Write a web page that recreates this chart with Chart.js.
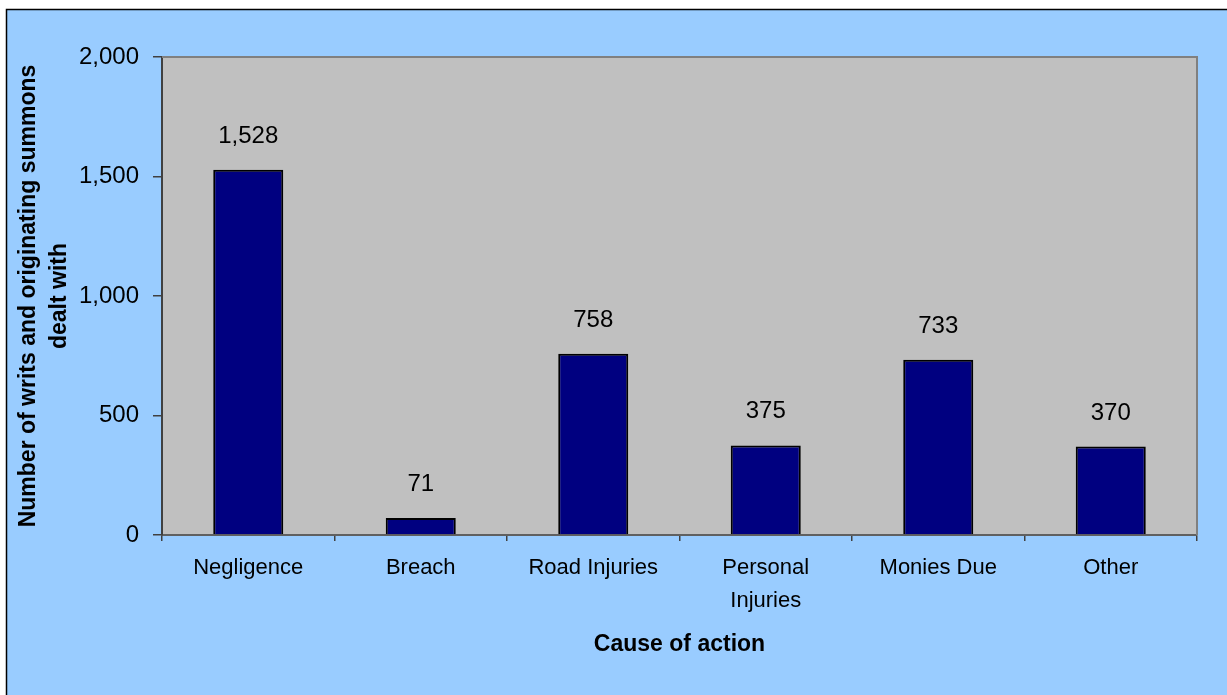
<!DOCTYPE html>
<html>
<head>
<meta charset="utf-8">
<script src="https://cdn.jsdelivr.net/npm/chart.js@4/dist/chart.umd.min.js"></script>
<style>
  html, body { margin: 0; padding: 0; background: #fff; }
  canvas { display: block; }
</style>
</head>
<body>
<canvas id="writsChart" width="1227" height="695"></canvas>
<script>
// data
var categories = ['Negligence', 'Breach', 'Road Injuries', ['Personal', 'Injuries'], 'Monies Due', 'Other'];
var writs = [1528, 71, 758, 375, 733, 370];
var yTicks = [0, 500, 1000, 1500, 2000];

var FONT = '"Liberation Sans", Arial, sans-serif';

// outer frame and plot background
var framePlugin = {
    id: 'frame',
    beforeDraw: function(chart) {
        var ctx = chart.ctx, a = chart.chartArea;
        ctx.save();
        ctx.fillStyle = '#ffffff';
        ctx.fillRect(0, 0, chart.width, chart.height);
        ctx.fillStyle = '#99ccff';
        ctx.fillRect(7, 10, chart.width - 7, chart.height - 10);
        ctx.strokeStyle = '#000000';
        ctx.lineWidth = 1.5;
        ctx.beginPath();
        ctx.moveTo(6.5, chart.height);
        ctx.lineTo(6.5, 9.5);
        ctx.lineTo(chart.width, 9.5);
        ctx.stroke();
        ctx.fillStyle = '#c0c0c0';
        ctx.fillRect(a.left, a.top, a.right - a.left, a.bottom - a.top);
        ctx.restore();
    },
    afterDraw: function(chart) {
        var ctx = chart.ctx, a = chart.chartArea;
        ctx.save();
        ctx.strokeStyle = '#808080';
        ctx.lineWidth = 2;
        ctx.beginPath();
        ctx.moveTo(a.left, a.top);
        ctx.lineTo(a.right, a.top);
        ctx.lineTo(a.right, a.bottom);
        ctx.stroke();
        ctx.restore();
    }
};

// value labels above the bars
var valueLabels = {
    id: 'valueLabels',
    afterDatasetsDraw: function(chart) {
        var ctx = chart.ctx;
        var meta = chart.getDatasetMeta(0);
        ctx.save();
        ctx.font = '24px ' + FONT;
        ctx.fillStyle = '#000000';
        ctx.textAlign = 'center';
        ctx.textBaseline = 'alphabetic';
        meta.data.forEach(function(bar, i) {
            ctx.fillText(writs[i].toLocaleString('en-US'), bar.x, bar.y - 27);
        });
        ctx.restore();
    }
};

var ctx = document.getElementById('writsChart').getContext('2d');
var writsChart = new Chart(ctx, {
    type: 'bar',
    data: {
        labels: categories,
        datasets: [{
            data: writs,
            backgroundColor: '#000080',
            borderColor: '#000000',
            borderWidth: 2,
            barPercentage: 0.406,
            categoryPercentage: 1
        }]
    },
    options: {
        responsive: false,
        devicePixelRatio: 1,
        animation: false,
        layout: { padding: { left: 0, top: 57, right: 30, bottom: 0 } },
        plugins: {
            legend: { display: false },
            tooltip: { enabled: false }
        },
        scales: {
            x: {
                grid: {
                    offset: true,
                    drawOnChartArea: false,
                    drawTicks: true,
                    tickLength: 6,
                    tickColor: '#404040',
                    lineWidth: 1.5
                },
                border: { color: '#606060', width: 2 },
                ticks: {
                    color: '#000000',
                    padding: 10,
                    maxRotation: 0,
                    autoSkip: false,
                    font: { family: FONT, size: 22, lineHeight: 1.5 }
                },
                title: {
                    display: true,
                    text: 'Cause of action',
                    color: '#000000',
                    padding: { top: 0, bottom: 37 },
                    font: { family: FONT, size: 23, weight: 'bold' }
                },
                afterFit: function(scale) { scale.height = 160; }
            },
            y: {
                min: 0,
                max: 2000,
                afterBuildTicks: function(scale) {
                    scale.ticks = yTicks.map(function(v) { return { value: v }; });
                },
                grid: {
                    drawOnChartArea: false,
                    drawTicks: true,
                    tickLength: 9,
                    tickColor: '#404040',
                    lineWidth: 1.5
                },
                border: { color: '#404040', width: 2 },
                ticks: {
                    color: '#000000',
                    padding: 14,
                    font: { family: FONT, size: 24 },
                    callback: function(v) { return v.toLocaleString('en-US'); }
                },
                title: {
                    display: true,
                    text: ['Number of writs and originating summons', 'dealt with'],
                    color: '#000000',
                    padding: { top: 13, bottom: 0 },
                    font: { family: FONT, size: 23, weight: 'bold', lineHeight: 1.35 }
                },
                afterFit: function(scale) { scale.width = 162; }
            }
        }
    },
    plugins: [framePlugin, valueLabels]
});
</script>
</body>
</html>
